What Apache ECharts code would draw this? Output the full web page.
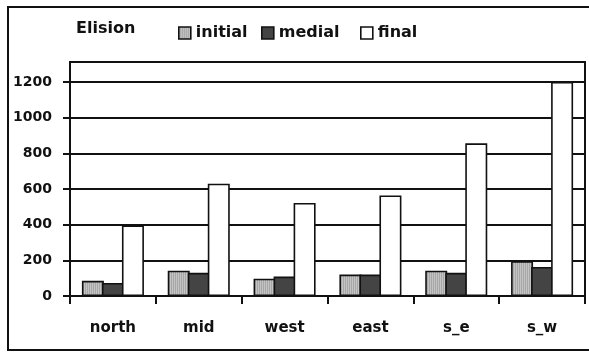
<!DOCTYPE html>
<html>
<head>
<meta charset="utf-8">
<script src="https://cdn.jsdelivr.net/npm/echarts@6/dist/echarts.min.js"></script>
<style>
  html, body { margin: 0; padding: 0; background: #fff; }
  #chart { width: 589px; height: 353px; }
</style>
</head>
<body>
<div id="chart"></div>
<script>
// Elision counts by region and word position
const categories = ['north', 'mid', 'west', 'east', 's_e', 's_w'];
const initialValues = [85, 142, 97, 120, 142, 195];
const medialValues = [73, 130, 109, 120, 130, 163];
const finalValues = [396, 630, 522, 564, 856, 1200];
const yTicks = [0, 200, 400, 600, 800, 1000, 1200];

// light grey with fine vertical hatching
function hatch() {
  const c = document.createElement('canvas');
  c.width = 2; c.height = 2;
  const g = c.getContext('2d');
  g.fillStyle = '#c4c4c4'; g.fillRect(0, 0, 2, 2);
  g.fillStyle = '#a6a6a6'; g.fillRect(1, 0, 1, 2);
  return { image: c, repeat: 'repeat' };
}

const FONT = 'DejaVu Sans';
const chart = echarts.init(document.getElementById('chart'), null, { renderer: 'canvas' });

const barStyle = (fill) => ({ color: fill, borderColor: '#111', borderWidth: 1.6 });

function legendItem(name, left, fill) {
  return {
    data: [{ name: name, itemStyle: { color: fill, borderColor: '#111', borderWidth: 1.6 } }],
    left: left, top: 20,
    icon: 'rect', itemWidth: 12, itemHeight: 12,
    selectedMode: false,
    textStyle: { fontFamily: FONT, fontWeight: 'bold', fontSize: 16, color: '#111' }
  };
}

const BAR = { type: 'bar', barWidth: 22, barGap: '-9%' };

chart.setOption({
  animation: false,
  backgroundColor: '#fff',
  title: {
    text: 'Elision', left: 71, top: 16,
    textStyle: { fontFamily: FONT, fontWeight: 'bold', fontSize: 16, color: '#111' }
  },
  legend: [
    legendItem('initial', 173, hatch()),
    legendItem('medial', 256, '#444444'),
    legendItem('final', 355, '#ffffff')
  ],
  graphic: [{
    type: 'rect', silent: true, z: 100,
    shape: { x: 8, y: 7, width: 600, height: 343 },
    style: { fill: null, stroke: '#111', lineWidth: 2 }
  }],
  grid: {
    left: 70, right: 4, top: 62, bottom: 57,
    show: true, borderColor: '#111', borderWidth: 2
  },
  xAxis: {
    type: 'category', data: categories,
    axisLine: { lineStyle: { color: '#111', width: 2 } },
    axisTick: { show: true, length: 8, lineStyle: { color: '#111', width: 2 } },
    axisLabel: { margin: 25, fontFamily: FONT, fontWeight: 'bold', fontSize: 15, color: '#111' }
  },
  yAxis: {
    type: 'value', min: 0, max: 1312, interval: 200,
    axisLine: { show: true, lineStyle: { color: '#111', width: 2 } },
    axisTick: { show: true, length: 7, lineStyle: { color: '#111', width: 2 } },
    axisLabel: {
      margin: 18, showMaxLabel: false, fontFamily: FONT, fontWeight: 'bold', fontSize: 14, color: '#111',
      formatter: (v) => (yTicks.indexOf(v) >= 0 ? String(v) : '')
    },
    splitLine: { show: true, lineStyle: { color: '#111', width: 2 } }
  },
  series: [
    Object.assign({ name: 'initial', data: initialValues, itemStyle: barStyle(hatch()) }, BAR),
    Object.assign({ name: 'medial', data: medialValues, itemStyle: barStyle('#444444') }, BAR),
    Object.assign({ name: 'final', data: finalValues, itemStyle: barStyle('#ffffff') }, BAR)
  ]
});
</script>
</body>
</html>
